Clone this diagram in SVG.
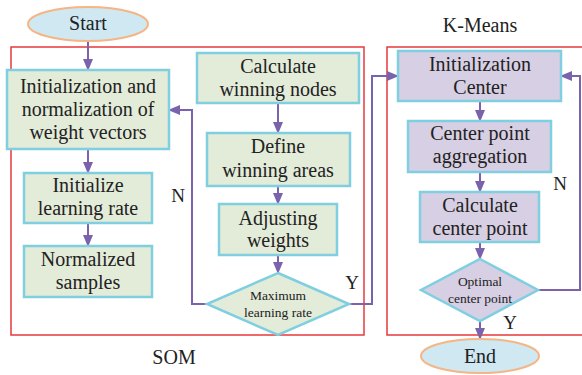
<svg xmlns="http://www.w3.org/2000/svg" width="582" height="375" viewBox="0 0 582 375">
<defs>
<marker id="ah" markerUnits="userSpaceOnUse" markerWidth="12" markerHeight="10" refX="11" refY="5" orient="auto">
<path d="M0,0 L12,5 L0,10 z" fill="#7b62ad"/>
</marker>
<style>
.g{fill:#e3ebd9;stroke:#7fcfe0;stroke-width:2.5}
.p{fill:#d7cfe3;stroke:#7fcfe0;stroke-width:2.5}
.e{fill:#cfe8f1;stroke:#f5b585;stroke-width:2}
.c{fill:none;stroke:#7b62ad;stroke-width:2;marker-end:url(#ah)}
.r{fill:none;stroke:#e8383c;stroke-width:1.5}
</style>
</defs>
<rect class="r" x="11" y="47" width="353" height="288"/>
<path class="r" d="M584,47 H387 V335 H584"/>
<g font-family="Liberation Serif" font-size="20" fill="#222" text-anchor="middle">
<text x="174" y="364">SOM</text>
<text x="480" y="32">K-Means</text>
</g>
<g id="connectors">
<line class="c" x1="88" y1="42" x2="88" y2="70"/>
<line class="c" x1="88" y1="149" x2="88" y2="173"/>
<line class="c" x1="88" y1="223" x2="88" y2="246"/>
<line class="c" x1="278" y1="103" x2="278" y2="133"/>
<line class="c" x1="278" y1="186" x2="278" y2="204"/>
<line class="c" x1="278" y1="255" x2="278" y2="273"/>
<path class="c" d="M207,304 H192 V110 H169"/>
<path class="c" d="M349,304 H372 V76 H398"/>
<line class="c" x1="480" y1="101" x2="480" y2="121"/>
<line class="c" x1="480" y1="172" x2="480" y2="192"/>
<line class="c" x1="480" y1="242" x2="480" y2="259"/>
<path class="c" d="M538,290 H580 V76 H561"/>
<line class="c" x1="480" y1="321" x2="480" y2="339"/>
<g font-family="Liberation Serif" font-size="19" fill="#222" text-anchor="middle">
<text x="178" y="202">N</text>
<text x="352" y="289">Y</text>
<text x="560" y="190">N</text>
<text x="510" y="329">Y</text>
</g>
</g>
<g id="start" font-family="Liberation Serif" font-size="20" fill="#222" text-anchor="middle">
<ellipse class="e" cx="88" cy="24" rx="60" ry="17"/>
<text x="88" y="30">Start</text>
</g>
<g id="init-norm" font-family="Liberation Serif" font-size="20" fill="#222" text-anchor="middle">
<rect class="g" x="7" y="70" width="162" height="79"/>
<text x="88" y="93">Initialization and</text>
<text x="88" y="116">normalization of</text>
<text x="88" y="139">weight vectors</text>
</g>
<g id="init-lr" font-family="Liberation Serif" font-size="20" fill="#222" text-anchor="middle">
<rect class="g" x="24" y="173" width="128" height="50"/>
<text x="88" y="192">Initialize</text>
<text x="88" y="215">learning rate</text>
</g>
<g id="norm-samples" font-family="Liberation Serif" font-size="20" fill="#222" text-anchor="middle">
<rect class="g" x="24" y="246" width="128" height="51"/>
<text x="88" y="266">Normalized</text>
<text x="88" y="289">samples</text>
</g>
<g id="calc-winning" font-family="Liberation Serif" font-size="20" fill="#222" text-anchor="middle">
<rect class="g" x="197" y="53" width="162" height="50"/>
<text x="278" y="73">Calculate</text>
<text x="278" y="96">winning nodes</text>
</g>
<g id="define-areas" font-family="Liberation Serif" font-size="20" fill="#222" text-anchor="middle">
<rect class="g" x="207" y="133" width="143" height="53"/>
<text x="278" y="153">Define</text>
<text x="278" y="177">winning areas</text>
</g>
<g id="adjust-weights" font-family="Liberation Serif" font-size="20" fill="#222" text-anchor="middle">
<rect class="g" x="219" y="204" width="118" height="51"/>
<text x="278" y="225">Adjusting</text>
<text x="278" y="247">weights</text>
</g>
<g id="max-lr" font-family="Liberation Serif" font-size="13.5" fill="#222" text-anchor="middle">
<polygon class="g" points="278,273 349,304 278,335 207,304"/>
<text x="278" y="300">Maximum</text>
<text x="278" y="317">learning rate</text>
</g>
<g id="init-center" font-family="Liberation Serif" font-size="20" fill="#222" text-anchor="middle">
<rect class="p" x="398" y="51" width="163" height="50"/>
<text x="480" y="71">Initialization</text>
<text x="480" y="94">Center</text>
</g>
<g id="center-agg" font-family="Liberation Serif" font-size="20" fill="#222" text-anchor="middle">
<rect class="p" x="408" y="121" width="143" height="51"/>
<text x="480" y="140">Center point</text>
<text x="480" y="163">aggregation</text>
</g>
<g id="calc-center" font-family="Liberation Serif" font-size="20" fill="#222" text-anchor="middle">
<rect class="p" x="420" y="192" width="119" height="50"/>
<text x="480" y="212">Calculate</text>
<text x="480" y="235">center point</text>
</g>
<g id="optimal" font-family="Liberation Serif" font-size="13.5" fill="#222" text-anchor="middle">
<polygon class="p" points="480,259 538,290 480,321 421,290"/>
<text x="480" y="286">Optimal</text>
<text x="480" y="303">center point</text>
</g>
<g id="end" font-family="Liberation Serif" font-size="20" fill="#222" text-anchor="middle">
<ellipse class="e" cx="480" cy="356" rx="59" ry="17"/>
<text x="480" y="363">End</text>
</g>
</svg>
